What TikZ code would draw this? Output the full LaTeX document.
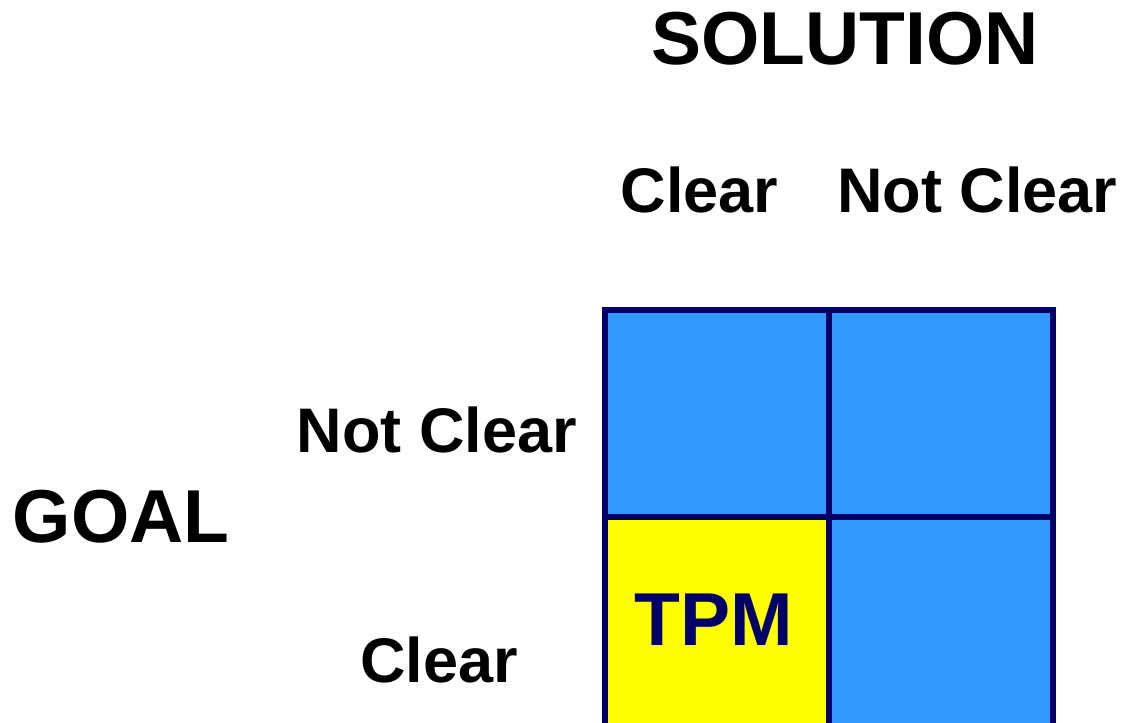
\documentclass[tikz,border=0pt]{standalone}
\usepackage{fontspec}
\setmainfont{Liberation Sans}
\definecolor{gridblue}{HTML}{3399FF}
\definecolor{tpmyellow}{HTML}{FFFF00}
\definecolor{gridnavy}{HTML}{000066}
\begin{document}
\begin{tikzpicture}[x=1pt,y=-1pt,
					cell/.append style={draw=gridnavy,line width=6pt,fill=gridblue,minimum width=224pt,minimum height=207pt,inner sep=0pt},
					big/.append style={font=\fontsize{75}{80}\selectfont\bfseries,anchor=base,inner sep=0pt},
					lab/.append style={font=\fontsize{63}{70}\selectfont\bfseries,anchor=base,inner sep=0pt}]
\useasboundingbox (0,0) rectangle (1122,723);
\node[cell] (nc-c) at (717,413.5) {};
\node[cell] (nc-n) at (941,413.5) {};
\node[cell,fill=tpmyellow,minimum height=220pt] (c-c) at (717,627) {};
\node[cell,minimum height=220pt] (c-n) at (941,627) {};
\node[big,text=gridnavy] (tpm) at (714,645) {TPM};
\node[big] (solution) at (845,64) {SOLUTION};
\node[lab] (sol-c) at (699.5,212) {Clear};
\node[lab] (sol-n) at (977.5,212) {Not Clear};
\node[big] (goal) at (121,542) {GOAL};
\node[lab] (goal-n) at (437,452) {Not Clear};
\node[lab] (goal-c) at (439,682) {Clear};
\end{tikzpicture}
\end{document}
